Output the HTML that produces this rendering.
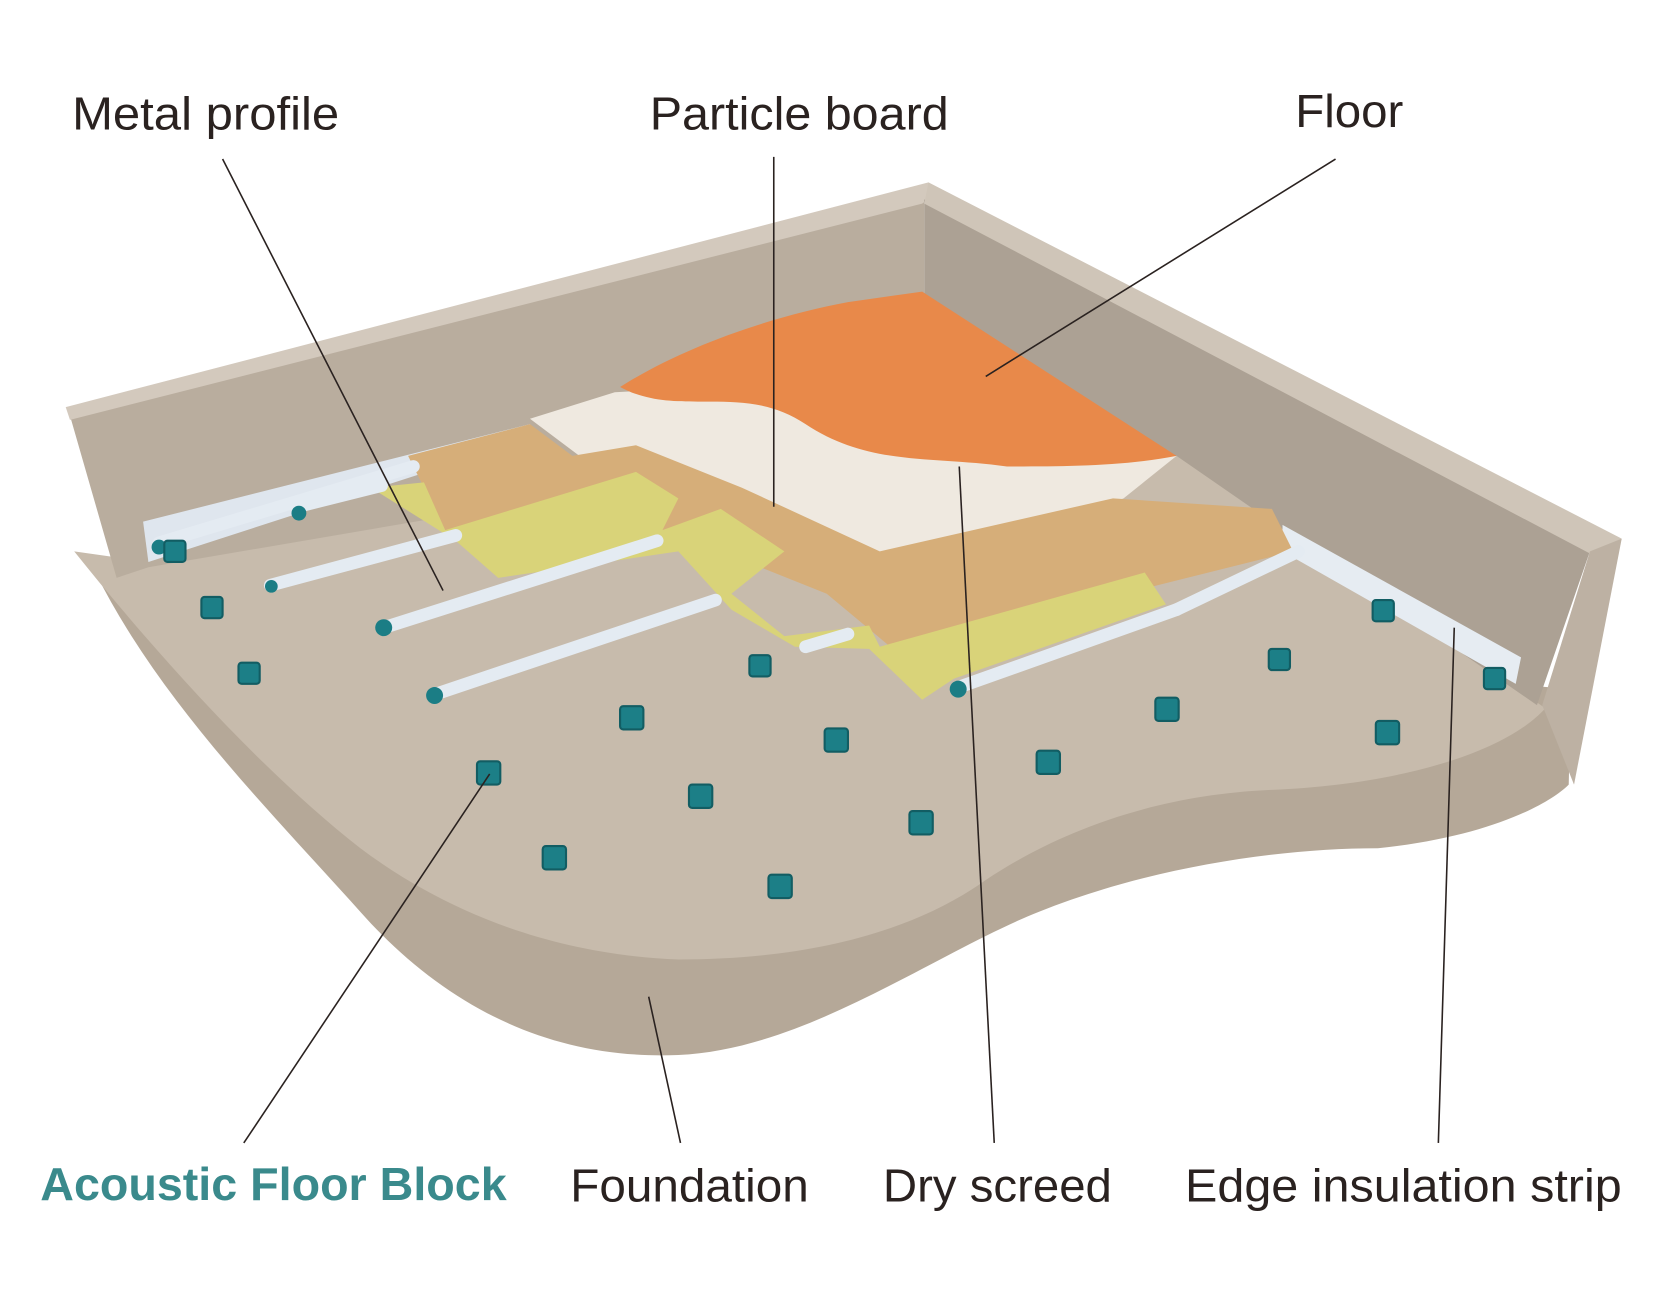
<!DOCTYPE html>
<html><head><meta charset="utf-8"><style>
html,body{margin:0;padding:0;background:#fff;width:1662px;height:1302px;overflow:hidden}
svg{display:block}
text{font-family:"Liberation Sans",sans-serif;fill:#2a2220}
</style></head><body>
<svg width="1662" height="1302" viewBox="0 0 1568 1228" preserveAspectRatio="none" xmlns="http://www.w3.org/2000/svg">
<rect width="1568" height="1228" fill="#fff"/>
<!-- slab side -->
<path d="M90,540 C150,660 250,760 340,860 C420,950 520,1000 640,995 C760,990 880,900 980,860 C1080,820 1200,800 1300,800 C1400,790 1460,760 1480,740 L1482,650 L90,530 Z" fill="#b5a898"/>
<!-- slab top -->
<path d="M70,520 L140,530 L872,405 L1110,428 L1458,668 C1420,710 1320,740 1200,745 C1080,750 990,790 930,830 C860,880 760,905 640,905 C520,900 420,860 340,800 C250,730 150,620 70,520 Z" fill="#c7bbac"/>
<!-- left wall inner face -->
<path d="M66,392 L872,188 L872,410 L140,535 L110,545 Z" fill="#b9ad9e"/>
<!-- left wall top -->
<path d="M62,384 L876,172 L886,180 L870,192 L66,396 Z" fill="#d3c9bd"/>
<!-- right wall inner -->
<path d="M872,188 L1500,520 L1450,665 L1110,430 L872,410 Z" fill="#aca194"/>
<!-- right wall top & outer -->
<path d="M876,172 L1530,508 L1500,522 L872,192 Z" fill="#cfc5b8"/>
<path d="M1500,520 L1530,508 L1485,740 L1455,665 Z" fill="#bdb1a3"/>
<!-- edge insulation strips -->
<path d="M135,492 L500,400 L505,412 L140,530 Z" fill="#dfe6ee"/>
<path d="M1210,495 L1435,620 L1430,645 L1210,520 Z" fill="#e6ecf2"/>
<!-- dry screed -->
<path d="M500,395 L580,370 L760,360 L1110,430 L1060,470 L930,520 L830,530 L700,470 L560,440 Z" fill="#efe9e0"/>
<!-- floor -->
<path d="M585,365 C640,330 720,300 800,285 L870,275 L1110,430 C1060,440 1000,440 950,440 C880,430 820,440 760,400 C700,360 640,395 585,365 Z" fill="#e8894a"/>
<!-- particle boards -->
<path d="M385,430 L500,400 L540,430 L600,420 L700,460 L830,520 L1050,470 L1200,480 L1220,520 L900,600 L840,610 L780,560 L680,520 L600,500 L420,500 Z" fill="#d6ae79"/>
<!-- insulation -->
<path d="M350,460 L400,455 L420,500 L600,445 L640,470 L625,500 L680,480 L740,520 L690,560 L740,600 L820,590 L830,610 L1080,540 L1100,570 L900,640 L870,660 L820,612 L750,610 L690,575 L640,520 L470,545 L430,510 Z" fill="#d9d379"/>
<!-- metal profiles -->
<g stroke="#e4ebf2" stroke-width="12" stroke-linecap="round">
<line x1="150" y1="512" x2="390" y2="440"/>
<line x1="280" y1="478" x2="360" y2="458"/>
<line x1="255" y1="552" x2="430" y2="505"/>
<line x1="362" y1="592" x2="620" y2="510"/>
<line x1="410" y1="655" x2="675" y2="566"/>
<line x1="760" y1="610" x2="800" y2="598"/>
<line x1="905" y1="648" x2="1110" y2="575"/>
<line x1="1110" y1="575" x2="1225" y2="520"/>
</g>
<g fill="#1b7d85">
<circle cx="150" cy="516" r="7"/><circle cx="256" cy="553" r="6"/><circle cx="362" cy="592" r="8"/><circle cx="410" cy="656" r="8"/><circle cx="904" cy="650" r="8"/><circle cx="282" cy="484" r="7"/>
</g>
<!-- blocks -->
<g fill="#1c7f87" stroke="#125d63" stroke-width="2">
<rect x="155" y="510" width="20" height="20" rx="3"/><rect x="190" y="563" width="20" height="20" rx="3"/><rect x="225" y="625" width="20" height="20" rx="3"/><rect x="450" y="718" width="22" height="22" rx="3"/><rect x="512" y="798" width="22" height="22" rx="3"/><rect x="585" y="666" width="22" height="22" rx="3"/><rect x="650" y="740" width="22" height="22" rx="3"/><rect x="707" y="618" width="20" height="20" rx="3"/><rect x="725" y="825" width="22" height="22" rx="3"/><rect x="778" y="687" width="22" height="22" rx="3"/><rect x="858" y="765" width="22" height="22" rx="3"/><rect x="978" y="708" width="22" height="22" rx="3"/><rect x="1090" y="658" width="22" height="22" rx="3"/><rect x="1197" y="612" width="20" height="20" rx="3"/><rect x="1295" y="566" width="20" height="20" rx="3"/><rect x="1298" y="680" width="22" height="22" rx="3"/><rect x="1400" y="630" width="20" height="20" rx="3"/>
</g>
<!-- leaders -->
<g stroke="#2a2220" stroke-width="1.5">
<line x1="210" y1="150" x2="418" y2="557"/>
<line x1="730" y1="148" x2="730" y2="478"/>
<line x1="1260" y1="150" x2="930" y2="355"/>
<line x1="230" y1="1078" x2="462" y2="730"/>
<line x1="642" y1="1078" x2="612" y2="940"/>
<line x1="938" y1="1078" x2="905" y2="440"/>
<line x1="1357" y1="1078" x2="1372" y2="592"/>
</g>
<g font-size="44">
<text x="68" y="122" textLength="252" lengthAdjust="spacingAndGlyphs">Metal profile</text>
<text x="613" y="122" textLength="282" lengthAdjust="spacingAndGlyphs">Particle board</text>
<text x="1222" y="120" textLength="102" lengthAdjust="spacingAndGlyphs">Floor</text>
<text x="38" y="1132" textLength="440" lengthAdjust="spacingAndGlyphs" font-weight="bold" style="fill:#3a8a8c">Acoustic Floor Block</text>
<text x="538" y="1133" textLength="225" lengthAdjust="spacingAndGlyphs">Foundation</text>
<text x="833" y="1133" textLength="216" lengthAdjust="spacingAndGlyphs">Dry screed</text>
<text x="1118" y="1133" textLength="412" lengthAdjust="spacingAndGlyphs">Edge insulation strip</text>
</g>
</svg>
</body></html>
